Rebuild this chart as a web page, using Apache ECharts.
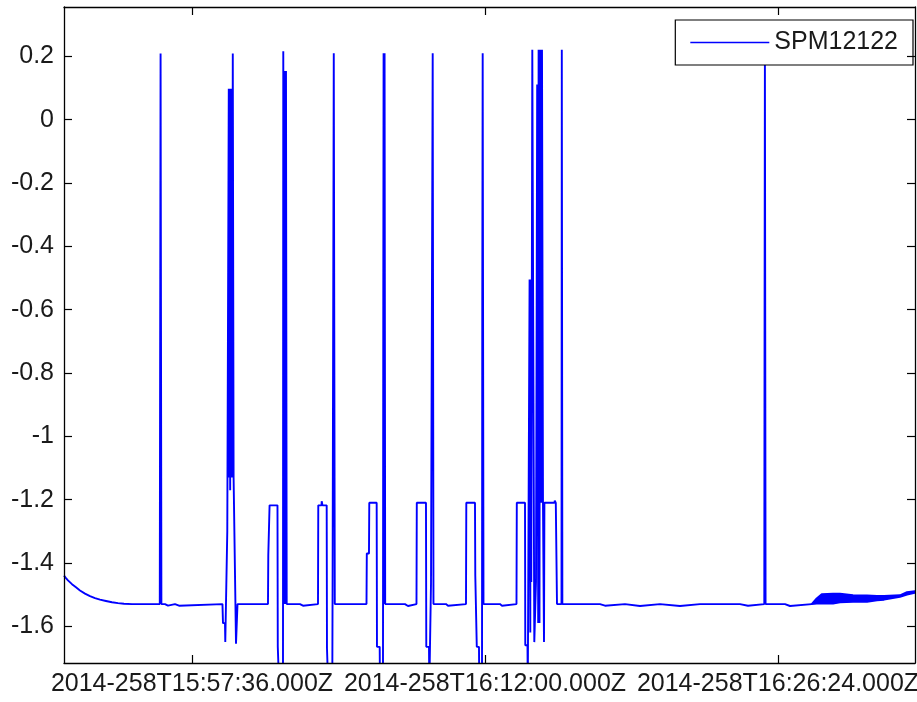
<!DOCTYPE html>
<html><head><meta charset="utf-8">
<script src="https://cdn.jsdelivr.net/npm/echarts@6/dist/echarts.min.js"></script>
<style>html,body{margin:0;padding:0;background:#fff}#c{width:917px;height:702px}</style>
</head><body><div id="c"></div>
<script>
// x in seconds relative to 2014-258T15:57:36.000Z
const xTickValues = [0, 864, 1728];
const xTickLabels = ['2014-258T15:57:36.000Z', '2014-258T16:12:00.000Z', '2014-258T16:26:24.000Z'];
const yTickValues = [-1.6, -1.4, -1.2, -1, -0.8, -0.6, -0.4, -0.2, 0, 0.2];
const yTickLabels = ['-1.6', '-1.4', '-1.2', '-1', '-0.8', '-0.6', '-0.4', '-0.2', '0', '0.2'];

const timeSec = [
  -377.4, -371.6, -365.7, -353.9, -342.1, -330.3, -315.5, -300.8, -286.0, -271.3, -253.6, -235.9, -218.2, -200.5, -176.9, -138.6,
  -95.0, -93.8, -92.6, -90.2, -79.6, -78.1, -70.8, -69.3, -50.1, -48.7, -38.3, -36.9,
  89.9, 91.4, 97.3, 98.2, 103.2, 104.1, 107.6, 108.5, 110.0, 111.2, 112.6, 113.8, 115.3, 116.5, 118.5, 120.3, 122.7, 123.9, 128.9, 129.8, 133.3, 134.2,
  171.0, 224.1, 225.0, 227.9, 228.8, 252.1, 253.0, 256.6, 257.4, 268.3, 269.2, 271.3, 273.1, 275.7, 277.2, 279.3,
  318.5, 320.0, 327.3, 328.8,
  371.6, 372.4, 381.9, 382.5, 384.8, 397.2, 398.1, 401.0, 401.9, 413.7, 414.6, 417.3, 418.1, 421.1,
  514.6, 515.5, 521.9, 522.8, 544.6, 545.5, 553.5, 554.4, 563.2, 564.1, 565.0, 567.1, 567.9, 569.7,
  628.1, 629.6, 636.9, 638.4,
  662.0, 662.9, 690.0, 690.9, 698.9, 699.8, 703.9, 704.8, 708.9, 709.8, 712.1,
  749.0, 750.5, 754.9, 756.4,
  808.0, 808.9, 834.5, 835.4, 838.9, 839.8, 846.3, 847.2, 855.2, 856.0, 857.2, 859.6,
  908.2, 909.7, 914.1, 915.6,
  956.9, 957.8, 982.0, 982.8, 989.3, 990.2, 994.6, 995.5, 997.6, 998.5, 1000.5, 1003.5, 1009.4, 1014.4, 1017.9, 1020.9,
  1022.1, 1024.7, 1026.2, 1027.7, 1030.6, 1032.1, 1035.0, 1038.0, 1039.2, 1068.9, 1069.8, 1072.8, 1075.4, 1076.3,
  1089.6, 1090.5, 1092.2,
  1203.1, 1204.6, 1217.9, 1219.3, 1276.8, 1278.3, 1321.1, 1322.5, 1380.0, 1381.5, 1439.0, 1440.5, 1498.0, 1499.5,
  1615.9, 1617.4, 1639.5, 1641.0,
  1687.6, 1688.5, 1689.4, 1691.4,
  1748.6, 1750.1, 1763.4, 1764.9, 1827.4
];
const signal = [
  -1.440, -1.448, -1.455, -1.467, -1.477, -1.487, -1.497, -1.505, -1.511, -1.516, -1.520, -1.524, -1.527, -1.529, -1.530, -1.530,
  -1.530, -0.665, 0.209, -1.530, -1.530, -1.535, -1.535, -1.530, -1.530, -1.535, -1.535, -1.530,
  -1.530, -1.590, -1.590, -1.650, -1.650, -1.300, -1.300, 0.098, -1.130, 0.098, -1.170, 0.098, -1.130, 0.098, -1.130, 0.209, -1.130, -1.218, -1.218, -1.655, -1.655, -1.530,
  -1.530, -1.530, -1.376, -1.376, -1.218, -1.218, -1.665, -1.665, -1.800, -1.800, 0.216, -1.530, 0.154, -1.530, 0.154, -1.530,
  -1.530, -1.535, -1.535, -1.530,
  -1.530, -1.218, -1.218, -1.205, -1.218, -1.218, -1.670, -1.670, -1.800, -1.800, -1.470, -1.470, 0.210, -1.530,
  -1.530, -1.370, -1.370, -1.210, -1.210, -1.665, -1.665, -1.800, -1.800, -0.561, 0.210, -1.530, 0.210, -1.530,
  -1.530, -1.536, -1.536, -1.530,
  -1.530, -1.210, -1.210, -1.665, -1.665, -1.800, -1.800, -1.465, -1.465, 0.210, -1.530,
  -1.530, -1.535, -1.535, -1.530,
  -1.530, -1.210, -1.210, -1.440, -1.440, -1.665, -1.665, -1.800, -1.800, -0.561, 0.210, -1.530,
  -1.530, -1.535, -1.535, -1.530,
  -1.530, -1.210, -1.210, -1.660, -1.660, -1.800, -1.800, -0.505, -1.620, -0.505, -1.460, 0.221, -1.650, -1.460, 0.111, -1.590,
  0.221, -1.590, 0.111, 0.221, -1.210, 0.221, -1.210, -1.650, -1.210, -1.210, -1.203, -1.210, -1.210, -1.530,
  -1.530, 0.221, -1.530,
  -1.530, -1.535, -1.535, -1.530, -1.530, -1.536, -1.536, -1.530, -1.530, -1.536, -1.536, -1.530, -1.530, -1.536,
  -1.530, -1.535, -1.535, -1.530,
  -1.530, -0.561, 0.210, -1.530,
  -1.530, -1.536, -1.536, -1.530, -1.530
];

// noisy band at the end: lower and upper envelope of the trace
const bandTimeSec = [1827.4, 1842.1, 1856.9, 1890.2, 1910.8, 1949.2, 1990.4, 2019.9, 2040.6, 2087.7, 2108.4, 2132.0];
const bandLower   = [-1.530, -1.528, -1.528, -1.528, -1.524, -1.523, -1.523, -1.518, -1.516, -1.507, -1.500, -1.494];
const bandUpper   = [-1.530, -1.512, -1.499, -1.497, -1.497, -1.502, -1.503, -1.504, -1.504, -1.502, -1.492, -1.489];

const BLUE = '#0000ff';
const FONT = "'Liberation Sans', Arial, Helvetica, sans-serif";
const TXT = '#1a1a1a';
const LW = 1.9;

const mainData = timeSec.map((t, i) => [t, signal[i]]);

function nearestLabel(vals, labels, v) {
  let best = 0;
  for (let i = 1; i < vals.length; i++) if (Math.abs(vals[i] - v) < Math.abs(vals[best] - v)) best = i;
  return labels[best];
}

const X_MIN = -377.4, X_MAX = 2132.0, Y_MIN = -1.716, Y_MAX = 0.356;
const axisLineStyle = { show: true, onZero: false, lineStyle: { color: '#000', width: 1.3 } };

const chart = echarts.init(document.getElementById('c'), null, { renderer: 'canvas' });
chart.setOption({
  animation: false,
  backgroundColor: '#fff',
  grid: { left: 64, right: 2, top: 7, bottom: 39, containLabel: false, outerBoundsMode: 'none' },
  legend: {
    data: [{ name: 'SPM12122', icon: 'rect' }],
    right: 4, top: 20,
    itemWidth: 79, itemHeight: 1.6, itemGap: 0,
    padding: [10, 15, 10, 15],
    backgroundColor: '#fff', borderColor: '#000', borderWidth: 1.2, borderRadius: 0,
    textStyle: { fontFamily: FONT, fontSize: 25, color: TXT },
    selectedMode: false
  },
  xAxis: [
    {
      type: 'value', position: 'bottom', min: X_MIN, max: X_MAX, z: 10,
      axisLine: axisLineStyle,
      splitLine: { show: false },
      axisTick: { show: true, inside: true, length: 8, lineStyle: { color: '#000', width: 1.2 }, customValues: xTickValues },
      axisLabel: { customValues: xTickValues, margin: 9, fontFamily: FONT, fontSize: 25, color: TXT,
        formatter: v => nearestLabel(xTickValues, xTickLabels, v) }
    },
    {
      type: 'value', position: 'top', min: X_MIN, max: X_MAX, z: 10,
      axisLine: axisLineStyle,
      splitLine: { show: false },
      axisTick: { show: true, inside: true, length: 8, lineStyle: { color: '#000', width: 1.2 }, customValues: xTickValues },
      axisLabel: { show: false }
    }
  ],
  yAxis: [
    {
      type: 'value', position: 'left', min: Y_MIN, max: Y_MAX, z: 10,
      axisLine: axisLineStyle,
      splitLine: { show: false },
      axisTick: { show: true, inside: true, length: 8, lineStyle: { color: '#000', width: 1.2 }, customValues: yTickValues },
      axisLabel: { customValues: yTickValues, margin: 10, fontFamily: FONT, fontSize: 25, color: TXT,
        formatter: v => nearestLabel(yTickValues, yTickLabels, v) }
    },
    {
      type: 'value', position: 'right', min: Y_MIN, max: Y_MAX, z: 10,
      axisLine: axisLineStyle,
      splitLine: { show: false },
      axisTick: { show: true, inside: true, length: 8, lineStyle: { color: '#000', width: 1.2 }, customValues: yTickValues },
      axisLabel: { show: false }
    }
  ],
  series: [
    {
      name: 'SPM12122', type: 'line', data: mainData, showSymbol: false, symbol: 'none',
      lineStyle: { color: BLUE, width: LW }, itemStyle: { color: BLUE }, clip: true
    },
    {
      name: 'band', type: 'custom', clip: true,
      data: [[bandTimeSec[0], bandLower[0]]],
      renderItem: function (params, api) {
        const pts = [];
        for (let i = 0; i < bandTimeSec.length; i++) pts.push(api.coord([bandTimeSec[i], bandUpper[i]]));
        for (let i = bandTimeSec.length - 1; i >= 0; i--) pts.push(api.coord([bandTimeSec[i], bandLower[i]]));
        return {
          type: 'polygon',
          shape: { points: pts },
          style: { fill: BLUE, stroke: BLUE, lineWidth: LW, lineJoin: 'round' }
        };
      }
    }
  ]
});
</script>
</body></html>
